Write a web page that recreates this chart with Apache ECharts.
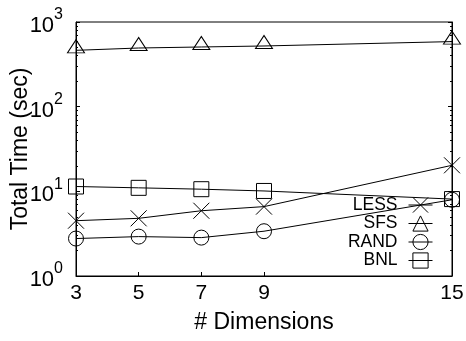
<!DOCTYPE html>
<html>
<head>
<meta charset="utf-8">
<script src="https://cdn.jsdelivr.net/npm/echarts@6/dist/echarts.min.js"></script>
<style>html,body{margin:0;padding:0;background:#fff}#c{width:466px;height:341px}</style>
</head>
<body>
<div id="c"></div>
<script>
// Data
const dims = [3, 5, 7, 9, 15];
const xTicks = [3, 5, 7, 9, 15];
const lessTimes = [4.5, 4.8, 5.9, 6.6, 20.3];
const sfsTimes = [463, 493, 507, 521, 587];
const randTimes = [2.77, 2.92, 2.84, 3.38, 7.95];
const bnlTimes = [11.4, 11.0, 10.6, 10.1, 8.1];
const seriesNames = ['LESS', 'SFS', 'RAND', 'BNL'];

const FONT = 'Liberation Sans, Arial, Helvetica, sans-serif';
const pairs = arr => dims.map((d, i) => [d, arr[i]]);
const xPath = 'path://M0,0L10,10M10,0L0,10';

function mk(name, data, symbol, size, offset) {
  return {
    name: name, type: 'line', data: pairs(data),
    symbol: symbol, symbolSize: size, symbolOffset: offset || [0, 0],
    showSymbol: true,
    color: '#000',
    lineStyle: { color: '#000', width: 1 },
    itemStyle: { color: 'rgba(0,0,0,0)', borderColor: '#000', borderWidth: 1 },
    emphasis: { disabled: true },
    animation: false,
    z: 3
  };
}

const chart = echarts.init(document.getElementById('c'), null, { renderer: 'canvas' });
const logAxisBase = {
  type: 'log', logBase: 10, min: 1, max: 1000,
  axisLine: { show: true, lineStyle: { color: '#000', width: 1 } },
  axisTick: { show: true, inside: true, length: 4, lineStyle: { color: '#000' } },
  minorTick: { show: true, splitNumber: 9, length: 2, lineStyle: { color: '#000' } },
  splitLine: { show: false },
  minorSplitLine: { show: false }
};
chart.setOption({
  animation: false,
  textStyle: { fontFamily: FONT, color: '#000' },
  grid: { left: 76, right: 14, top: 22, bottom: 65, containLabel: false, outerBoundsMode: 'none', show: true, borderColor: '#000', borderWidth: 1, backgroundColor: 'transparent' },
  legend: {
    data: seriesNames,
    orient: 'vertical', right: 33, top: 196, padding: 0,
    align: 'right',
    itemWidth: 24, itemHeight: 19, itemGap: 0.5,
    itemStyle: { color: 'rgba(0,0,0,0)', borderColor: '#000', borderWidth: 1 },
    lineStyle: { color: '#000', width: 1 },
    textStyle: { fontFamily: FONT, fontSize: 17.5, color: '#000', padding: [0, 6, 0, 0] },
    selectedMode: false
  },
  xAxis: {
    type: 'value', min: 3, max: 15,
    name: '# Dimensions', nameLocation: 'middle', nameGap: 35, nameMoveOverlap: false,
    nameTextStyle: { fontFamily: FONT, fontSize: 23, color: '#000' },
    axisLine: { show: true, lineStyle: { color: '#000', width: 1 } },
    axisTick: { show: true, inside: true, length: 4, customValues: xTicks, lineStyle: { color: '#000' } },
    axisLabel: { customValues: xTicks, fontFamily: FONT, fontSize: 21, color: '#000', margin: 7 },
    splitLine: { show: false }
  },
  yAxis: [
    Object.assign({}, logAxisBase, {
      position: 'left',
      name: 'Total Time (sec)', nameLocation: 'middle', nameGap: 44, nameMoveOverlap: false,
      nameTextStyle: { fontFamily: FONT, fontSize: 23, color: '#000' },
      axisLabel: {
        margin: 13, color: '#000',
        formatter: v => '{b|10}{s|' + Math.round(Math.log10(v)) + '}',
        rich: {
          b: { fontFamily: FONT, fontSize: 22, color: '#000', verticalAlign: 'bottom', lineHeight: 30 },
          s: { fontFamily: FONT, fontSize: 16, color: '#000', verticalAlign: 'top', lineHeight: 16 }
        }
      }
    }),
    Object.assign({}, logAxisBase, {
      position: 'right',
      axisLabel: { show: false }
    })
  ],
  series: [
    mk('LESS', lessTimes, xPath, 16),
    mk('SFS', sfsTimes, 'triangle', [17, 13], [0, -4]),
    mk('RAND', randTimes, 'circle', 15),
    mk('BNL', bnlTimes, 'rect', 15)
  ]
});
</script>
</body>
</html>
